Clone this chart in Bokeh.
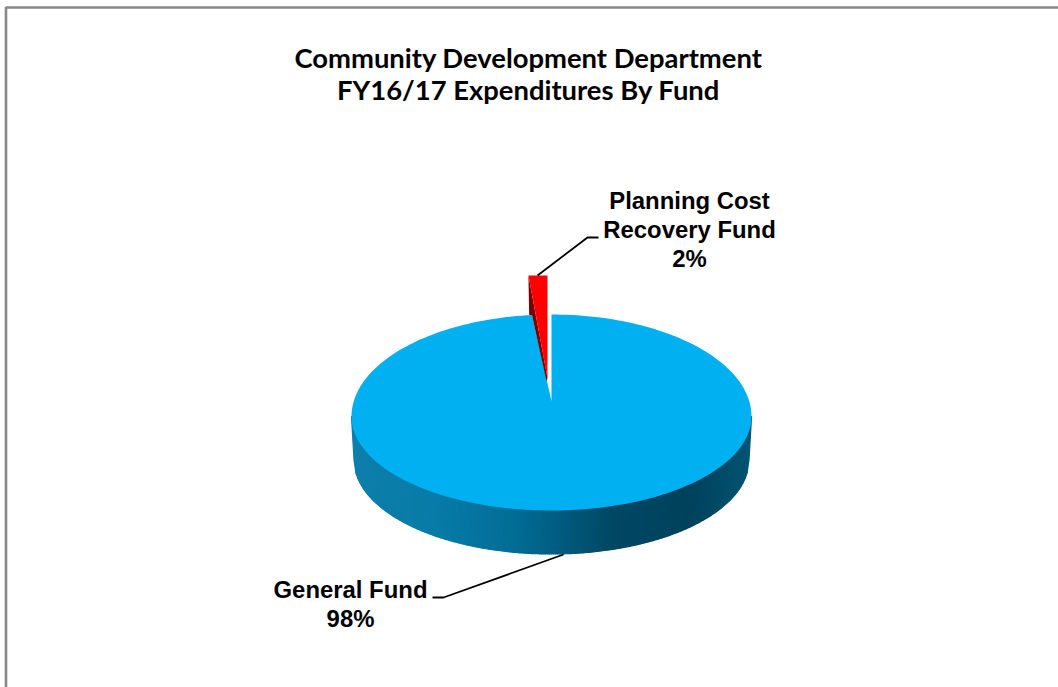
import math

from bokeh.core.properties import value
from bokeh.embed import file_html
from bokeh.models import Range1d
from bokeh.plotting import figure
from bokeh.resources import INLINE

# Data
funds = ["General Fund", "Planning Cost Recovery Fund"]
shares = [98, 2]
title_lines = ["Community Development Department", "FY16/17 Expenditures By Fund"]
general_label = ["General Fund", "98%"]
planning_label = ["Planning Cost", "Recovery Fund", "2%"]

# Page geometry, in pixels from the top left corner
WIDTH, HEIGHT = 1058, 687
CX, CY = 551.0, 416.0          # centre of the upper face, at its widest line
RX = 200.0                     # half width of the upper face
RY_FAR, RY_NEAR = 102.0, 94.0  # the tilted disc is flatter towards the viewer
APEX_Y = 400.5                 # where the slice edges meet on the tilted disc
BASE_CY = 460.0                # widest line of the lower rim
RX_BASE = 197.5                # the lower rim narrows slightly
FAR_SCALE = 0.78               # foreshortening of the far rim
LIFT = 39.0                    # how far the exploded slice is pulled out
BLUE, RED, DARK_RED = "#00B0F0", "#FF0000", "#7A0000"

# Rim shading from left to right: (offset across the disc, colour)
rim_stops = [
    (0.00, (14, 126, 170)),
    (0.20, (8, 124, 168)),
    (0.40, (2, 110, 150)),
    (0.52, (0, 92, 128)),
    (0.65, (0, 72, 100)),
    (0.85, (0, 66, 92)),
    (1.00, (0, 84, 114)),
]


def rim_colour(f):
    for (a, ca), (b, cb) in zip(rim_stops, rim_stops[1:]):
        if f <= b:
            t = (f - a) / (b - a)
            return "#%02x%02x%02x" % tuple(round(u + (v - u) * t) for u, v in zip(ca, cb))
    return "#%02x%02x%02x" % rim_stops[-1][1]


def base_y(u):
    return BASE_CY + RY_NEAR * math.sqrt(max(0.0, 1 - u * u))


def face_point(t):
    # t runs clockwise from twelve o'clock
    c = math.cos(t)
    return CX + RX * math.sin(t), CY - (RY_FAR if c > 0 else RY_NEAR) * c


total = sum(shares)
gap_angle = 2 * math.pi * shares[1] / total
gap_dx = RX * FAR_SCALE * math.sin(gap_angle)
far_edge = CY - RY_FAR

p = figure(
    width=WIDTH, height=HEIGHT, output_backend="svg", toolbar_location=None,
    x_range=Range1d(0, WIDTH), y_range=Range1d(HEIGHT, 0),
    x_axis_type=None, y_axis_type=None, min_border=0,
    outline_line_color=None, background_fill_color="white",
)
p.grid.visible = False

# Frame: the top and left edges only
p.line([5.5, 5.5, WIDTH], [HEIGHT, 7, 7], line_color="#888888", line_width=2.6)

# Rim of the disc, built from narrow strips that taper towards the lower edge;
# each strip is stroked in its own colour so no seams show between them
xs, ys, cols = [], [], []
n = 200
for i in range(n):
    u0 = -1 + 2 * i / n
    u1 = -1 + 2 * (i + 1) / n
    xs.append([CX + RX * u0, CX + RX * u1, CX + RX_BASE * u1, CX + RX_BASE * u0])
    ys.append([CY, CY, base_y(u1) - 0.5, base_y(u0) - 0.5])
    cols.append(rim_colour(i / n))
p.patches(xs, ys, fill_color=cols, line_color=cols, line_width=1.2)

# Upper face of the large slice, clockwise from twelve o'clock
end_t = 2 * math.pi - math.asin(gap_dx / RX)
m = 240
arc = [face_point(end_t * k / m) for k in range(1, m + 1)]
p.patch([CX, CX] + [a[0] for a in arc], [APEX_Y, far_edge] + [a[1] for a in arc],
        fill_color=BLUE, line_color=None)

# Exploded small slice: dark cut face, then its upper face
tip_x = CX - 4.0
tip_y = APEX_Y - 23.0
far_y = far_edge - LIFT
left_x = tip_x - gap_dx + 0.5
p.patch(
    [left_x, tip_x, tip_x - 1, left_x + 3.5, left_x + 0.7],
    [far_y, tip_y, tip_y + 3, far_edge + 0.5, far_edge + 0.5],
    fill_color=DARK_RED, line_color=None,
)
p.patch([left_x, tip_x, tip_x], [far_y, far_y, tip_y], fill_color=RED, line_color=None)

# Leader lines
p.line([CX - 14, CX + 36, CX + 47], [far_y, 237, 237], line_color="black", line_width=1.8)
p.line([CX + 12, CX - 108, CX - 119], [554, 597, 597], line_color="black", line_width=1.8)

# Title
p.text([528, 528], [57, 89], text=title_lines, text_font=value("Lato"), text_font_style="bold",
       text_font_size="27.4px", text_align="center", text_baseline="middle", text_color="black")

# Slice labels
p.text([350, 350], [589, 618], text=general_label, text_font=value("Liberation Sans"),
       text_font_style="bold", text_font_size="23.9px", text_align="center",
       text_baseline="middle", text_color="black")
p.text([689, 689, 689], [200, 229, 258], text=planning_label, text_font=value("Liberation Sans"),
       text_font_style="bold", text_font_size="23.9px", text_align="center",
       text_baseline="middle", text_color="black")

open("out.html", "w").write(file_html(p, INLINE))
